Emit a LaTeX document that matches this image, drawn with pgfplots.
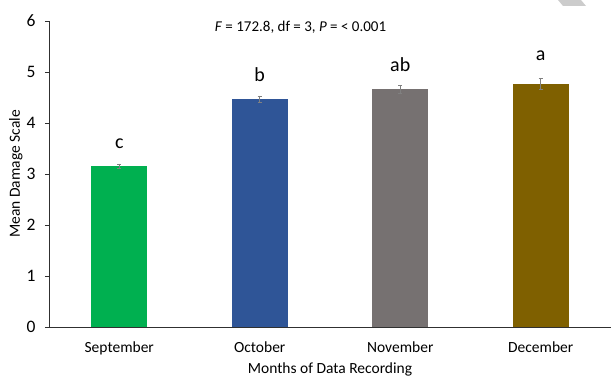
\documentclass[border=0pt]{standalone}
\usepackage{fontspec}
\setmainfont{Carlito}
\usepackage{pgfplots}
\pgfplotsset{compat=1.18}
\definecolor{cgreen}{HTML}{00B050}
\definecolor{cblue}{HTML}{2F5597}
\definecolor{cgray}{HTML}{767171}
\definecolor{cbrown}{HTML}{7F6000}
\definecolor{axcol}{HTML}{303030}
\begin{document}
\begin{tikzpicture}
\begin{axis}[
  scale only axis,
  width=562pt, height=306pt,
  xmin=-0.5, xmax=3.5,
  ymin=0, ymax=6,
  ytick={0,1,2,3,4,5,6},
  yticklabels={0,1,2,3,4,5,6},
  xtick={0,1,2,3},
  xticklabels={September,October,November,December},
  minor xtick={0.5,1.5,2.5,3.5},
  xtick style={draw=none},
  minor tick length=4pt,
  major tick length=4pt,
  tick align=outside,
  axis lines*=left,
  axis line style={axcol, line width=0.8pt},
  every tick/.style={axcol, line width=0.8pt},
  minor tick style={axcol, line width=0.8pt},
  ytick style={axcol, line width=0.8pt},
  yticklabel style={font=\fontsize{17.5}{20}\selectfont, black, xshift=-6pt},
  xticklabel style={font=\fontsize{15.5}{18}\selectfont, black, yshift=-7pt},
  /pgf/number format/assume math mode=true,
  xlabel={Months of Data Recording},
  ylabel={Mean Damage Scale},
  label style={font=\fontsize{15.5}{18}\selectfont},
  ylabel style={at={(axis description cs:0,0.5)}, anchor=south, yshift=23pt},
  xlabel style={at={(axis description cs:0.5,0)}, anchor=north, yshift=-32pt},
  ybar, bar width=56pt, bar shift=0pt,
  clip=false,
  error bars/y dir=both, error bars/y explicit,
  error bars/error bar style={gray, line width=0.6pt},
  error bars/error mark options={rotate=90, mark size=2.2pt, gray, line width=0.6pt},
]
\addplot[fill=cgreen, draw=none] coordinates {(0,3.16) +- (0,0.04)};
\addplot[fill=cblue, draw=none] coordinates {(1,4.47) +- (0,0.06)};
\addplot[fill=cgray, draw=none] coordinates {(2,4.66) +- (0,0.08)};
\addplot[fill=cbrown, draw=none] coordinates {(3,4.77) +- (0,0.11)};
\node[font=\fontsize{20}{23}\selectfont] at (axis cs:0,3.6) {c};
\node[font=\fontsize{20}{23}\selectfont] at (axis cs:1,4.94) {b};
\node[font=\fontsize{20}{23}\selectfont] at (axis cs:2,5.14) {ab};
\node[font=\fontsize{20}{23}\selectfont] at (axis cs:3,5.31) {a};
\node[font=\fontsize{15}{18}\selectfont] at (axis cs:1.29,5.88) {\textit{F} = 172.8, df = 3, \textit{P} = < 0.001};
\end{axis}
\fill[gray!40] (509pt,327pt) -- (532pt,327pt) -- (537pt,321pt) -- (514pt,321pt) -- cycle;
\pgfresetboundingbox
\path[use as bounding box] (-49pt,-51pt) rectangle (562pt,327pt);
\end{tikzpicture}
\end{document}
